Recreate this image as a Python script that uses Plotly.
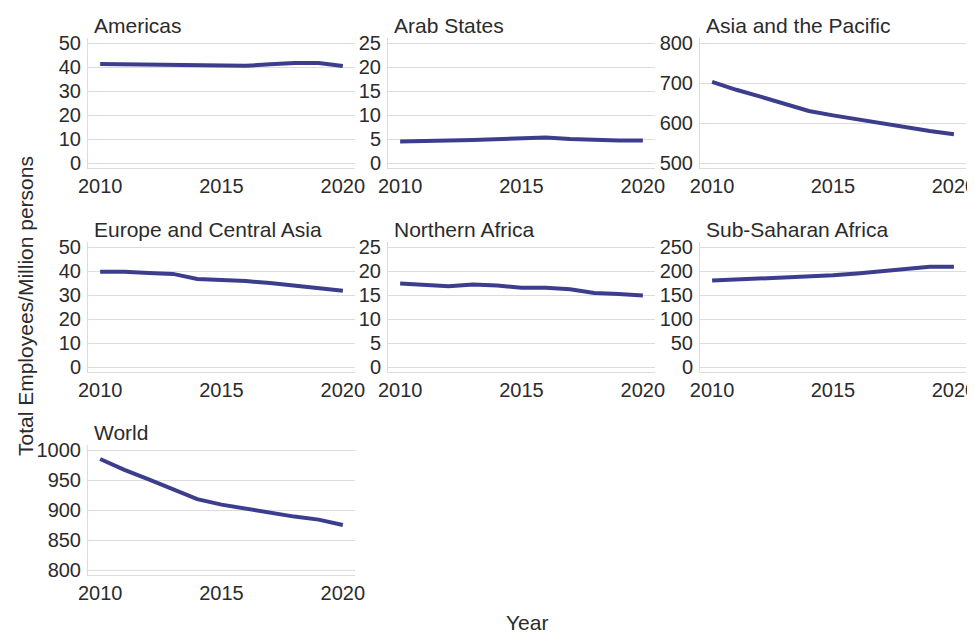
import plotly.graph_objects as go

# ── Data ────────────────────────────────────────────────────────────
years = [2010, 2011, 2012, 2013, 2014, 2015, 2016, 2017, 2018, 2019, 2020]

americas = [41.3, 41.1, 41.2, 40.8, 40.5, 40.5, 40.5, 41.1, 41.7, 41.7, 40.4]
arab_states = [4.5, 4.5, 4.7, 4.8, 5.0, 5.3, 5.3, 5.0, 4.8, 4.7, 4.7]
asia_pacific = [703, 683, 666, 648, 630, 619, 609, 599, 589, 580, 572]
europe_central_asia = [39.7, 39.7, 39.2, 38.8, 36.7, 36.3, 35.8, 35.0, 34.0, 33.0, 31.8]
northern_africa = [17.4, 17.1, 16.8, 17.2, 17.0, 16.5, 16.5, 16.2, 15.4, 15.2, 14.9]
sub_saharan_africa = [180, 182, 184, 186, 188, 191, 195, 199, 204, 209, 209]
world = [985, 967, 951, 935, 918, 909, 902, 896, 889, 884, 875]

regions = ['Americas', 'Arab States', 'Asia and the Pacific',
           'Europe and Central Asia', 'Northern Africa', 'Sub-Saharan Africa',
           'World']
series = [americas, arab_states, asia_pacific, europe_central_asia,
          northern_africa, sub_saharan_africa, world]

# y tick bounds per panel (low, high, step)
y_ticks = [(0, 50, 10), (0, 25, 5), (500, 800, 100),
           (0, 50, 10), (0, 25, 5), (0, 250, 50),
           (800, 1000, 50)]

x_ticks = [2010, 2015, 2020]

# ── Layout geometry (pixels, figure coords; page body adds 8px) ─────
W, H = 975, 633
col_px = [(80, 347), (380, 647), (692, 958)]
row_px = [(30, 160), (234, 364), (437, 567)]

LINE = '#3d3d8e'
GRID = '#dcdcdc'
TEXT = '#2b2b2b'
FONT = 'Liberation Sans, Arial, sans-serif'
FS = 20
FS_T = 21

fig = go.Figure()
annotations = []

for i, (name, vals, (lo, hi, step)) in enumerate(zip(regions, series, y_ticks)):
    r, c = divmod(i, 3)
    n = '' if i == 0 else str(i + 1)
    x0, x1 = col_px[c]
    top, bot = row_px[r]
    pad = (hi - lo) * 5 / 120

    fig.add_trace(go.Scatter(
        x=years, y=vals, mode='lines',
        line=dict(color=LINE, width=4),
        xaxis='x' + n, yaxis='y' + n,
        showlegend=False, hoverinfo='x+y'
    ))

    fig.layout['xaxis' + n] = dict(
        domain=[x0 / W, x1 / W], anchor='y' + n, automargin=False,
        range=[2009.5, 2020.5], tickvals=x_ticks, ticklabeloverflow='allow',
        showgrid=False, zeroline=False,
        showline=True, linecolor=GRID, linewidth=1,
        ticks='', tickfont=dict(size=FS, color=TEXT, family=FONT),
    )
    fig.layout['yaxis' + n] = dict(
        domain=[1 - bot / H, 1 - top / H], anchor='x' + n, automargin=False,
        range=[lo - pad, hi + pad],
        tickvals=list(range(lo, hi + 1, step)),
        showgrid=True, gridcolor=GRID, gridwidth=1, zeroline=False,
        showline=True, linecolor=GRID, linewidth=1,
        ticks='', ticklabelstandoff=2,
        tickfont=dict(size=FS, color=TEXT, family=FONT),
    )

    # panel title
    annotations.append(dict(
        text=name, xref='paper', yref='paper',
        x=(x0 + 4) / W, y=1 - (top + 1) / H,
        xanchor='left', yanchor='bottom', showarrow=False,
        font=dict(size=FS_T, color=TEXT, family=FONT)
    ))

# shared axis titles
annotations.append(dict(
    text='Year', xref='paper', yref='paper',
    x=519 / W, y=1 - 614 / H, xanchor='center', yanchor='middle',
    showarrow=False, font=dict(size=FS_T, color=TEXT, family=FONT)
))
annotations.append(dict(
    text='Total Employees/Million persons', xref='paper', yref='paper',
    x=17 / W, y=1 - 298 / H, xanchor='center', yanchor='middle',
    textangle=-90, showarrow=False,
    font=dict(size=FS_T, color=TEXT, family=FONT)
))

fig.update_layout(
    width=W, height=H,
    margin=dict(l=0, r=0, t=0, b=0),
    paper_bgcolor='white', plot_bgcolor='white',
    annotations=annotations,
)

fig.write_html('out.html')
